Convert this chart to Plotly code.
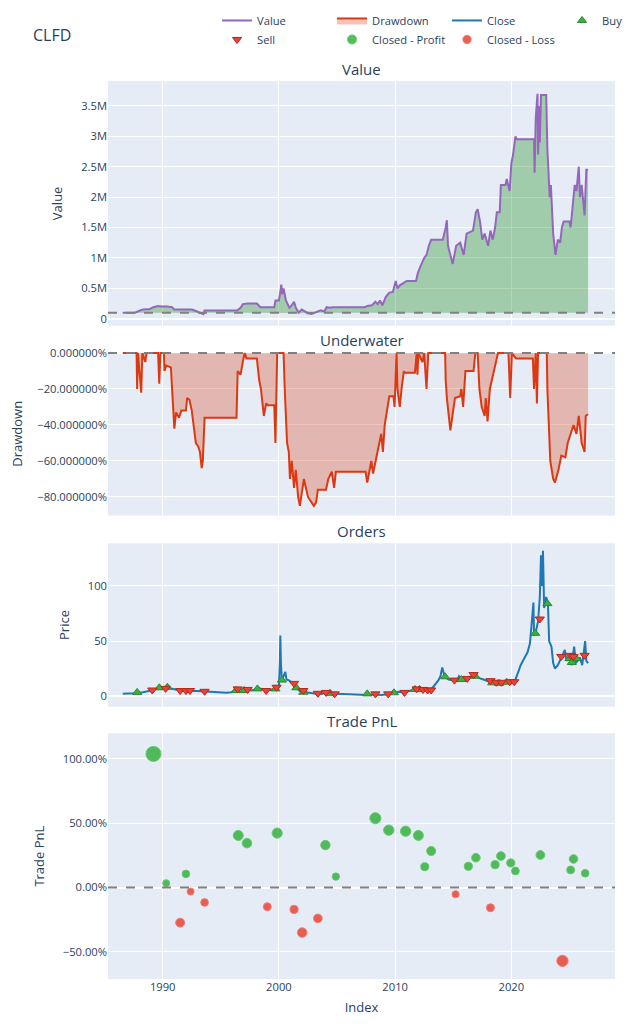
import pandas as pd
import plotly.graph_objects as go
from plotly.subplots import make_subplots

TICKER = "CLFD"
INIT_CASH = 100000

# portfolio value (decimal year, millions)
value_years = [1986.56, 1987.6, 1988.0, 1988.3, 1988.9, 1989.2, 1989.6, 1989.9, 1990.4, 1990.8,
               1991.0, 1992.5, 1992.8, 1993.2, 1993.5, 1993.6, 1996.4, 1996.7, 1996.9, 1997.3,
               1998.1, 1998.4, 1999.6, 1999.7, 2000.0, 2000.15, 2000.2, 2000.3, 2000.4, 2000.6,
               2000.7, 2000.9, 2001.1, 2001.3, 2001.45, 2001.7, 2001.95, 2002.2, 2002.5, 2002.8,
               2003.1, 2003.6, 2003.9, 2004.1, 2004.4, 2004.6, 2007.4, 2007.6, 2008.0, 2008.3,
               2008.5, 2008.7, 2008.9, 2009.2, 2009.5, 2009.8, 2010.05, 2010.2, 2010.4, 2010.8,
               2011.0, 2011.8, 2011.95, 2012.15, 2012.5, 2012.7, 2012.9, 2013.1, 2014.1, 2014.35,
               2014.45, 2014.55, 2014.8, 2014.95, 2015.1, 2015.25, 2015.6, 2015.9, 2016.15, 2016.7,
               2016.95, 2017.1, 2017.3, 2017.5, 2017.7, 2018.0, 2018.2, 2018.4, 2018.6, 2018.75,
               2019.0, 2019.1, 2019.5, 2019.6, 2019.85, 2020.0, 2020.15, 2020.35, 2020.45, 2021.95,
               2022.0, 2022.1, 2022.25, 2022.3, 2022.4, 2022.45, 2022.55, 2023.0, 2023.1, 2023.3,
               2023.4, 2023.6, 2023.8, 2024.0, 2024.2, 2024.35, 2024.5, 2025.0, 2025.1, 2025.45,
               2025.6, 2025.8, 2025.9, 2026.05, 2026.3, 2026.45, 2026.6]
value_m = [0.10, 0.10, 0.13, 0.15, 0.16, 0.19, 0.21, 0.20, 0.20, 0.19,
           0.15, 0.15, 0.13, 0.10, 0.075, 0.134, 0.134, 0.18, 0.24, 0.25,
           0.25, 0.19, 0.19, 0.30, 0.30, 0.48, 0.56, 0.40, 0.50, 0.30,
           0.25, 0.18, 0.22, 0.28, 0.18, 0.10, 0.15, 0.12, 0.09, 0.08,
           0.10, 0.14, 0.12, 0.19, 0.18, 0.19, 0.19, 0.21, 0.22, 0.28,
           0.24, 0.30, 0.22, 0.36, 0.43, 0.44, 0.62, 0.50, 0.55, 0.60,
           0.62, 0.62, 0.75, 0.85, 1.00, 1.05, 1.20, 1.30, 1.30, 1.50,
           1.62, 1.20, 1.00, 0.90, 1.05, 1.20, 1.25, 1.05, 1.40, 1.45,
           1.75, 1.80, 1.60, 1.30, 1.40, 1.20, 1.45, 1.30, 1.50, 1.75,
           1.75, 2.20, 2.20, 2.30, 2.10, 2.55, 2.70, 3.00, 2.95, 2.95,
           2.40, 3.30, 3.70, 2.70, 3.50, 2.90, 3.68, 3.68, 2.80, 2.00,
           2.20, 1.40, 1.05, 1.30, 1.25, 1.50, 1.60, 1.60, 1.50, 2.20,
           2.10, 2.50, 2.00, 2.20, 1.70, 2.45, 2.45]

# underwater (decimal year, drawdown %)
dd_years = [1986.56, 1987.75, 1987.8, 1987.87, 1988.15, 1988.25, 1988.5, 1988.6, 1989.6, 1989.7,
            1989.8, 1990.1, 1990.15, 1990.3, 1990.7, 1990.8, 1991.0, 1991.15, 1991.4, 1991.6,
            1992.0, 1992.1, 1992.3, 1992.5, 1992.6, 1992.75, 1992.85, 1993.05, 1993.2, 1993.35,
            1993.45, 1993.6, 1996.35, 1996.45, 1996.7, 1996.95, 1997.05, 1997.2, 1998.1, 1998.3,
            1998.45, 1998.6, 1998.7, 1998.9, 1999.05, 1999.6, 1999.7, 1999.85, 2000.4, 2000.5,
            2000.7, 2000.85, 2000.95, 2001.1, 2001.3, 2001.45, 2001.65, 2001.8, 2002.15, 2002.5,
            2003.0, 2003.2, 2003.35, 2004.05, 2004.25, 2004.55, 2004.75, 2004.9, 2007.45, 2007.6,
            2007.95, 2008.1, 2008.45, 2008.6, 2008.8, 2008.95, 2009.1, 2009.5, 2009.85, 2009.95,
            2010.05, 2010.12, 2010.2, 2010.4, 2010.55, 2010.75, 2010.8, 2011.7, 2011.85, 2011.92,
            2012.0, 2012.35, 2012.5, 2012.7, 2012.85, 2014.3, 2014.35, 2014.45, 2014.75, 2014.9,
            2015.15, 2015.6, 2015.7, 2015.85, 2016.05, 2016.75, 2016.9, 2017.1, 2017.25, 2017.45,
            2017.7, 2017.8, 2017.95, 2018.15, 2018.5, 2018.85, 2019.75, 2019.9, 2020.05, 2020.4,
            2021.85, 2021.95, 2022.1, 2022.2, 2022.3, 2023.05, 2023.1, 2023.25, 2023.35, 2023.6,
            2023.75, 2024.05, 2024.3, 2024.65, 2024.85, 2025.35, 2025.6, 2025.7, 2025.8, 2026.05,
            2026.3, 2026.4, 2026.6]
dd_pct = [0, 0, -20, 0, -22, 0, -5, 0, 0, -17,
          0, 0, -10, -7, -8, -18, -42, -33, -36, -32,
          -32, -25, -26, -32, -38, -45, -50, -52, -55, -64,
          -60, -36, -36, -10, -12, -3, 0, -3, -3, -15,
          -20, -29, -35, -28, -29, -29, -50, 0, 0, -20,
          -50, -55, -70, -60, -75, -65, -80, -85, -70, -80,
          -85, -83, -76, -76, -70, -66, -75, -66, -66, -72,
          -60, -67, -55, -52, -45, -55, -40, -24, -24, -30,
          -5, 0, -20, -30, -20, -10, -11, -11, 0, -12,
          0, -5, 0, -20, 0, 0, -15, -25, -43, -35,
          -25, -24, -20, -30, -10, -10, 0, 0, -20, -30,
          -35, -25, -38, -20, -10, 0, 0, -25, 0, -3,
          -3, -20, 0, -28, 0, 0, -20, -40, -60, -70,
          -72, -65, -57, -58, -50, -40, -45, -40, -35, -50,
          -55, -35, -34]

# close price (decimal year, price)
close_years = [1986.56, 1987.0, 1987.5, 1987.8, 1988.3, 1988.8, 1989.1, 1989.5, 1989.7, 1990.0,
               1990.3, 1990.6, 1991.0, 1991.5, 1992.0, 1992.5, 1993.0, 1993.6, 1994.0, 1994.5,
               1995.0, 1995.5, 1995.9, 1996.3, 1996.5, 1996.8, 1997.0, 1997.3, 1997.6, 1998.0,
               1998.2, 1998.5, 1998.9, 1999.3, 1999.6, 1999.8, 2000.0, 2000.08, 2000.12, 2000.17,
               2000.25, 2000.4, 2000.55, 2000.65, 2000.9, 2001.1, 2001.3, 2001.5, 2001.8, 2002.1,
               2002.5, 2003.0, 2003.4, 2003.7, 2004.05, 2004.5, 2004.8, 2005.5, 2006.0, 2006.5,
               2007.0, 2007.6, 2008.3, 2008.8, 2009.2, 2009.6, 2009.9, 2010.3, 2010.8, 2011.2,
               2011.7, 2012.0, 2012.4, 2012.8, 2013.1, 2013.4, 2013.7, 2013.9, 2014.05, 2014.15,
               2014.3, 2014.6, 2015.0, 2015.3, 2015.5, 2015.7, 2016.0, 2016.3, 2016.6, 2016.75,
               2017.0, 2017.3, 2017.6, 2018.0, 2018.3, 2018.7, 2019.0, 2019.4, 2019.8, 2020.2,
               2020.35, 2020.6, 2020.8, 2021.0, 2021.2, 2021.4, 2021.6, 2021.8, 2021.9, 2021.95,
               2022.1, 2022.3, 2022.45, 2022.55, 2022.62, 2022.72, 2022.82, 2023.0, 2023.15, 2023.25,
               2023.45, 2023.6, 2023.75, 2024.0, 2024.3, 2024.6, 2024.75, 2025.0, 2025.2, 2025.4,
               2025.55, 2025.9, 2026.1, 2026.35, 2026.45, 2026.6]
close_px = [2.0, 2.2, 2.6, 3.3, 3.5, 4.5, 5.5, 7.0, 7.5, 6.5,
            7.5, 7.0, 6.0, 5.0, 5.2, 4.5, 4.5, 4.2, 3.5, 3.8,
            3.2, 3.0, 3.5, 5.0, 7.0, 5.5, 4.8, 6.0, 5.0, 6.0,
            7.5, 6.5, 5.0, 5.5, 7.0, 8.0, 8.5, 30.0, 55.0, 30.0,
            15.0, 18.0, 22.0, 15.0, 14.0, 12.0, 11.0, 7.5, 4.5, 4.0,
            3.0, 2.3, 2.5, 2.0, 3.3, 2.5, 2.0, 1.8, 1.5, 1.5,
            1.2, 1.0, 1.5, 1.0, 1.5, 2.5, 3.5, 4.0, 3.2, 4.5,
            6.0, 7.0, 6.0, 5.5, 6.0, 10.0, 14.0, 18.0, 26.0, 22.0,
            17.5, 15.0, 14.0, 13.5, 18.0, 15.0, 14.0, 17.0, 18.0, 20.0,
            18.0, 16.0, 15.0, 13.5, 12.0, 12.5, 11.5, 12.0, 13.0, 12.0,
            15.0, 22.0, 28.0, 32.0, 36.0, 40.0, 48.0, 70.0, 85.0, 55.0,
            58.0, 68.0, 90.0, 128.0, 100.0, 132.0, 80.0, 90.0, 84.0, 50.0,
            45.0, 30.0, 25.0, 28.0, 35.0, 42.0, 32.0, 38.0, 28.0, 45.0,
            30.0, 35.0, 28.0, 50.0, 32.0, 30.0]

buy_years = [1987.8, 1989.7, 1990.4, 1996.3, 1997.0, 1998.15, 1999.7, 2000.25, 2001.5, 2002.1,
             2004.4, 2007.6, 2009.9, 2011.7, 2012.1, 2014.3, 2015.7, 2016.9, 2018.35, 2018.95,
             2019.6, 2022.05, 2023.1, 2025.0, 2025.2, 2025.6]
buy_px = [3.3, 7.5, 8.0, 5.0, 5.0, 6.5, 6.5, 14.5, 7.5, 3.5,
          2.5, 2.0, 3.0, 6.0, 6.0, 17.5, 15.0, 18.0, 12.0, 11.5,
          12.5, 57.0, 84.0, 34.0, 30.5, 34.0]

sell_years = [1989.1, 1990.25, 1991.5, 1992.0, 1992.35, 1993.6, 1996.45, 1997.3, 1998.9, 1999.8,
              2001.3, 2002.1, 2003.35, 2004.05, 2004.8, 2008.3, 2009.4, 2010.8, 2011.85, 2012.4,
              2012.8, 2013.1, 2015.1, 2016.2, 2016.75, 2018.2, 2018.7, 2019.15, 2019.85, 2020.25,
              2022.45, 2024.3, 2025.1, 2025.35, 2026.3]
sell_px = [5.5, 7.0, 5.0, 5.0, 5.0, 4.3, 6.5, 6.0, 5.0, 8.0,
           11.5, 5.0, 2.5, 3.3, 2.0, 2.0, 2.0, 3.3, 6.5, 6.0,
           5.5, 5.5, 14.5, 16.0, 19.5, 14.0, 12.5, 12.5, 13.0, 13.0,
           70.0, 36.0, 37.0, 36.0, 37.0]

profit_years = [1989.2, 1990.3, 1992.0, 1996.5, 1997.25, 1999.85, 2004.0, 2004.9, 2008.3, 2009.45,
                2010.9, 2012.0, 2012.55, 2013.1, 2016.3, 2016.95, 2018.6, 2019.1, 2019.95, 2020.35,
                2022.5, 2025.1, 2025.35, 2026.35]
profit_pnl = [103.9, 3.4, 10.6, 40.5, 34.5, 42.3, 33.0, 8.5, 53.9, 44.6,
              43.8, 40.5, 16.2, 28.4, 16.5, 23.2, 17.8, 24.5, 19.1, 12.9,
              25.3, 13.7, 22.2, 11.1]

loss_years = [1991.5, 1992.4, 1993.6, 1999.0, 2001.3, 2002.0, 2003.35, 2015.2, 2018.2, 2024.4]
loss_pnl = [-27.3, -3.1, -11.6, -14.9, -17.0, -35.0, -24.0, -5.2, -15.7, -57.0]


def to_date(years):
    out = []
    for y in years:
        start = pd.Timestamp(year=int(y), month=1, day=1)
        out.append(start + pd.Timedelta(days=(y - int(y)) * 365.25))
    return out


GREEN = "#37B13F"
RED = "#EA4335"

v_x = to_date(value_years)
v_y = [v * 1e6 for v in value_m]
bench = [INIT_CASH] * len(v_y)

fig = make_subplots(rows=4, cols=1, shared_xaxes=True,
                    subplot_titles=["Value", "Underwater", "Orders", "Trade PnL"])

# fill between value and benchmark
fig.add_trace(go.Scatter(x=v_x, y=bench, mode="lines", line=dict(width=0),
                         showlegend=False, hoverinfo="skip"), row=1, col=1)
fig.add_trace(go.Scatter(x=v_x, y=[max(a, b) for a, b in zip(v_y, bench)], mode="lines",
                         line=dict(width=0), fill="tonexty", fillcolor="rgba(0,128,0,0.3)",
                         showlegend=False, hoverinfo="skip"), row=1, col=1)
fig.add_trace(go.Scatter(x=v_x, y=bench, mode="lines", line=dict(width=0),
                         showlegend=False, hoverinfo="skip"), row=1, col=1)
fig.add_trace(go.Scatter(x=v_x, y=[min(a, b) for a, b in zip(v_y, bench)], mode="lines",
                         line=dict(width=0), fill="tonexty", fillcolor="rgba(255,0,0,0.3)",
                         showlegend=False, hoverinfo="skip"), row=1, col=1)
fig.add_trace(go.Scatter(x=v_x, y=v_y, mode="lines", name="Value",
                         line=dict(color="#9467bd", width=2)), row=1, col=1)

fig.add_trace(go.Scatter(x=to_date(dd_years), y=[d / 100 for d in dd_pct], mode="lines",
                         name="Drawdown", line=dict(color="#dc3912", width=2),
                         fill="tozeroy", fillcolor="rgba(220,57,18,0.3)"), row=2, col=1)

fig.add_trace(go.Scatter(x=to_date(close_years), y=close_px, mode="lines", name="Close",
                         line=dict(color="#1f77b4", width=2)), row=3, col=1)
fig.add_trace(go.Scatter(x=to_date(buy_years), y=buy_px, mode="markers", name="Buy",
                         marker=dict(symbol="triangle-up", color=GREEN, size=8,
                                     line=dict(width=1, color="#2a8a30"))), row=3, col=1)
fig.add_trace(go.Scatter(x=to_date(sell_years), y=sell_px, mode="markers", name="Sell",
                         marker=dict(symbol="triangle-down", color=RED, size=8,
                                     line=dict(width=1, color="#b8261a"))), row=3, col=1)

all_abs = [abs(p) for p in profit_pnl + loss_pnl]
lo, hi = min(all_abs), max(all_abs)


def sizes(vals):
    return [7 + 8 * (abs(v) - lo) / (hi - lo) for v in vals]


fig.add_trace(go.Scatter(x=to_date(profit_years), y=[p / 100 for p in profit_pnl], mode="markers",
                         name="Closed - Profit",
                         marker=dict(color=GREEN, size=sizes(profit_pnl), opacity=0.85,
                                     line=dict(width=1, color="#4fc257"))), row=4, col=1)
fig.add_trace(go.Scatter(x=to_date(loss_years), y=[p / 100 for p in loss_pnl], mode="markers",
                         name="Closed - Loss",
                         marker=dict(color=RED, size=sizes(loss_pnl), opacity=0.85,
                                     line=dict(width=1, color="#f06a5e"))), row=4, col=1)

dash = dict(color="gray", width=2, dash="dash")
fig.add_hline(y=INIT_CASH, line=dash, row=1, col=1)
fig.add_hline(y=0, line=dash, row=2, col=1)
fig.add_hline(y=0, line=dash, row=4, col=1)

x_range = to_date([1985.29, 2028.92])
for r in range(1, 5):
    fig.update_xaxes(range=x_range, automargin=False, row=r, col=1)
fig.update_xaxes(title_text="Index", row=4, col=1)

fig.update_yaxes(automargin=False)
fig.update_yaxes(title_text="Value", range=[-0.115e6, 3.91e6], dtick=500000,
                 domain=[0.7275, 1.0], row=1, col=1)
fig.update_yaxes(title_text="Drawdown", tickformat="%", range=[-0.904, 0.0056],
                 domain=[0.516, 0.6982], row=2, col=1)
fig.update_yaxes(title_text="Price", range=[-9.7, 138.8], domain=[0.3032, 0.4852], row=3, col=1)
fig.update_yaxes(title_text="Trade PnL", tickformat=".2%", range=[-0.711, 1.199],
                 domain=[0.0, 0.2736], row=4, col=1)

# move subplot titles with the domains
tops = [1.0, 0.6982, 0.4852, 0.2736]
for ann, top in zip(fig.layout.annotations, tops):
    ann.y = top
    ann.font.size = 15

fig.update_layout(
    font=dict(size=11.2),
    title=dict(text=TICKER, x=0.04, y=0.9732, yanchor="middle"),
    width=624, height=1008,
    margin=dict(l=100, r=17, t=73, b=37),
    legend=dict(orientation="h", xref="container", yref="container",
                yanchor="bottom", y=0.9544, xanchor="left", x=0.335,
                traceorder="normal", entrywidth=70),
)

fig.write_html("out.html")
